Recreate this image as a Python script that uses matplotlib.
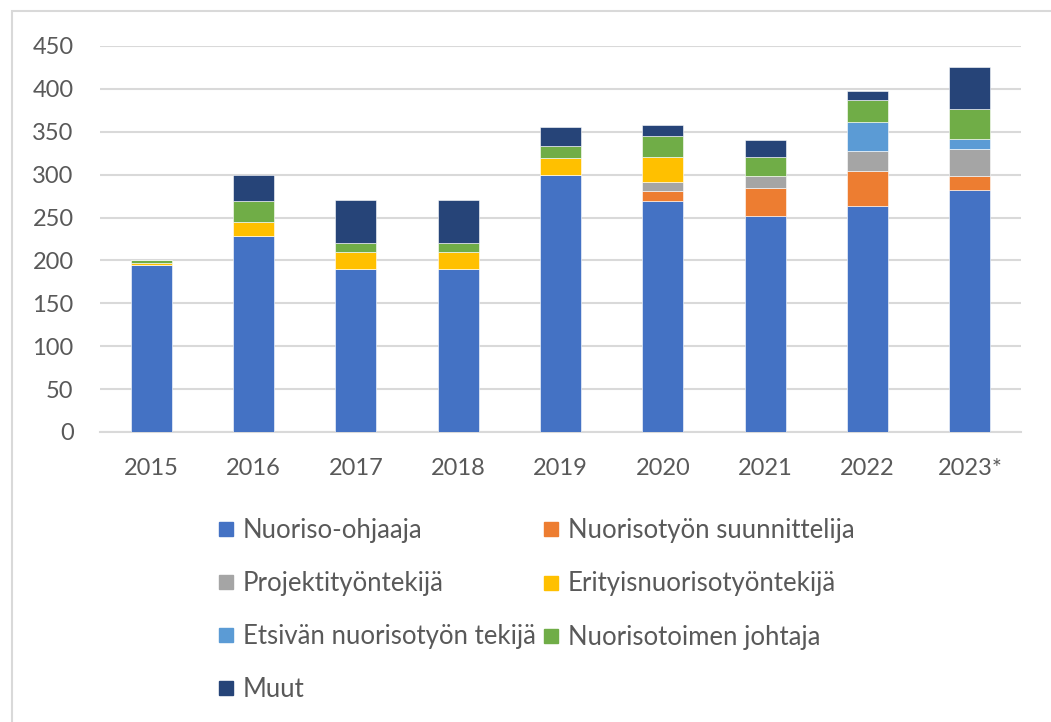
import matplotlib.pyplot as plt
import matplotlib.patches as mpatches
from matplotlib.lines import Line2D
import numpy as np

plt.rcParams['font.family'] = ['Lato', 'DejaVu Sans']

years = ['2015', '2016', '2017', '2018', '2019', '2020', '2021', '2022', '2023*']

# henkilöitä nimikkeittäin
nuoriso_ohjaaja = [195, 229, 190, 190, 300, 269, 252, 264, 282]
suunnittelija = [0, 0, 0, 0, 0, 12, 33, 40, 17]
projekti = [0, 0, 0, 0, 0, 11, 14, 24, 31]
erityis = [2, 16, 20, 20, 20, 29, 0, 0, 0]
etsiva = [0, 0, 0, 0, 0, 0, 0, 33, 12]
johtaja = [4, 24, 10, 10, 14, 24, 22, 26, 35]
muut = [0, 31, 51, 51, 21, 13, 19, 11, 49]

labels = ['Nuoriso-ohjaaja', 'Nuorisotyön suunnittelija', 'Projektityöntekijä',
          'Erityisnuorisotyöntekijä', 'Etsivän nuorisotyön tekijä',
          'Nuorisotoimen johtaja', 'Muut']
series = [nuoriso_ohjaaja, suunnittelija, projekti, erityis, etsiva, johtaja, muut]
colors = ['#4472C4', '#ED7D31', '#A5A5A5', '#FFC000', '#5B9BD5', '#70AD47', '#264478']

fig = plt.figure(figsize=(10.51, 7.22), dpi=100)
ax = fig.add_axes([100/1051, 1 - 432/722, 921/1051, 386/722])

x = np.arange(len(years))
bottom = np.zeros(len(years))
for vals, c in zip(series, colors):
    ax.bar(x, vals, 0.4, bottom=bottom, color=c, edgecolor='white', linewidth=0.4, zorder=3)
    bottom += np.array(vals)

ax.set_xlim(-0.5, len(years) - 0.5)
ax.set_ylim(0, 450)
ax.set_yticks(range(0, 451, 50))
ax.set_xticks(x)
ax.set_xticklabels(years)
ax.yaxis.grid(True, color='#d9d9d9', linewidth=1.5, zorder=0)
ax.set_axisbelow(True)
for s in ['top', 'right', 'left']:
    ax.spines[s].set_visible(False)
ax.spines['bottom'].set_color('#d9d9d9')
ax.spines['bottom'].set_linewidth(1.5)
ax.tick_params(axis='both', length=0, labelsize=17, labelcolor='#595959')
ax.tick_params(axis='x', pad=19)
ax.tick_params(axis='y', pad=19)


def legend_col(idx, x0, yc):
    hs = [Line2D([], [], marker='s', linestyle='', markersize=9.4,
                 markerfacecolor=colors[i], markeredgecolor=colors[i]) for i in idx]
    leg = fig.legend(hs, [labels[i] for i in idx], frameon=False,
                     loc='center left', bbox_to_anchor=(x0/1051, 1 - yc/722),
                     fontsize=18.5, labelcolor='#595959', handlelength=0.5,
                     handletextpad=0.38, labelspacing=1.1, borderpad=0,
                     borderaxespad=0)
    return leg


legend_col([0, 2, 4, 6], 220, 610)
legend_col([1, 3, 5], 545, 584)

fig.patches.append(mpatches.Rectangle((12/1051, -0.1), 1.2, 1.1 - 11/722,
                                      transform=fig.transFigure, fill=False,
                                      edgecolor='#d9d9d9', linewidth=1.5))

fig.savefig('out.png', dpi=100)
